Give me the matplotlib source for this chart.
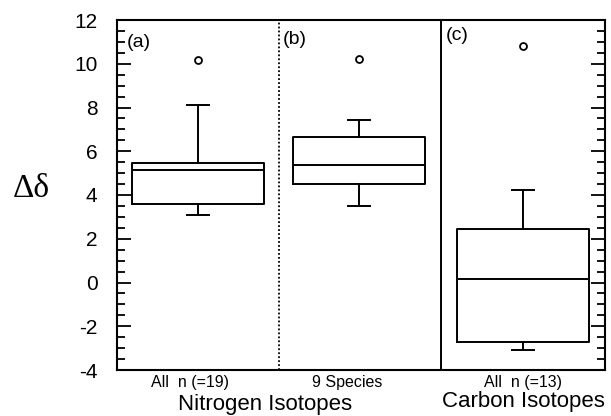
import matplotlib.pyplot as plt
from matplotlib.ticker import MultipleLocator

plt.rcParams['font.family'] = ['Liberation Sans', 'DejaVu Sans']
plt.rcParams['axes.unicode_minus'] = False

# box statistics
groups = ['a', 'b', 'c']
whisker_hi = [8.1, 7.45, 4.25]
q3 = [5.45, 6.65, 2.45]
median = [5.15, 5.35, 0.15]
q1 = [3.6, 4.5, -2.7]
whisker_lo = [3.1, 3.5, -3.1]
outliers = [[10.15], [10.2], [10.8]]

panel_labels = ['(a)', '(b)', '(c)']
sub_labels = ['All  n (=19)', '9 Species', 'All  n (=13)']

stats = []
for i, g in enumerate(groups):
    stats.append(dict(label=g, whishi=whisker_hi[i], q3=q3[i], med=median[i],
                      q1=q1[i], whislo=whisker_lo[i], fliers=outliers[i]))

fig = plt.figure(figsize=(6.11, 4.16), dpi=100)
ax = fig.add_axes([117 / 611, 1 - 370 / 416, 488 / 611, 350 / 416])

pos = [81, 242, 406]
lw = 1.4
ax.bxp(stats, positions=pos, widths=132, capwidths=22, showfliers=True,
       boxprops=dict(color='black', linewidth=lw),
       medianprops=dict(color='black', linewidth=lw),
       whiskerprops=dict(color='black', linewidth=lw),
       capprops=dict(color='black', linewidth=lw),
       flierprops=dict(marker='o', markersize=5, markerfacecolor='white',
                       markeredgecolor='black', markeredgewidth=1.3))

# panel dividers
ax.axvline(162, color='black', linewidth=1.3, linestyle=(0, (1, 1.2)))
ax.axvline(324, color='black', linewidth=1.4)

ax.set_xlim(0, 488)
ax.set_ylim(-4, 12)
ax.yaxis.set_major_locator(MultipleLocator(2))
ax.yaxis.set_minor_locator(MultipleLocator(0.5))
ax.tick_params(axis='y', which='both', direction='in', right=True, labelsize=15,
               width=1.3, pad=14)
ax.tick_params(axis='y', which='major', length=10)
ax.tick_params(axis='y', which='minor', length=6)
ax.set_xticks([])
for s in ax.spines.values():
    s.set_linewidth(1.5)

for x, y, t in zip([10, 166, 329], [11.35, 11.5, 11.7], panel_labels):
    ax.text(x, y, t, fontsize=14, va='top', ha='left')

for x, t in zip([73, 230, 406], sub_labels):
    ax.text(x, -4.22, t, fontsize=11.5, ha='center', va='top')

ax.text(148, -5.1, 'Nitrogen Isotopes', fontsize=16, ha='center', va='top')
ax.text(406, -4.95, 'Carbon Isotopes', fontsize=16, ha='center', va='top')

fig.text(31 / 611, 1 - 189 / 416, '\u0394\u03b4', fontsize=24, ha='center',
         va='center', family=['Liberation Serif', 'DejaVu Serif'])

fig.savefig('out.png', dpi=100)
